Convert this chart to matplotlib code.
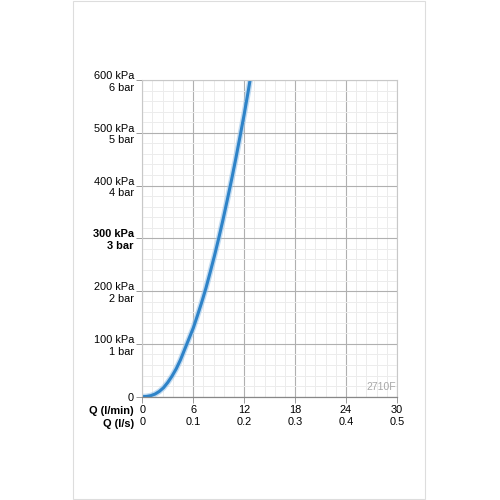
import matplotlib.pyplot as plt
from matplotlib.patches import Rectangle
from matplotlib.ticker import MultipleLocator

plt.rcParams['font.family'] = ['Liberation Sans', 'DejaVu Sans']

# caudal (l/min) y presión (kPa)
q_lmin = [0, 0.5, 1, 1.5, 2, 2.5, 3, 3.5, 4, 4.5, 5, 5.5, 6, 6.5, 7, 7.5, 8,
          8.5, 9, 9.5, 10, 10.5, 11, 11.5, 12, 12.5, 12.9]
p_kpa = [0, 0.5, 2, 5, 10, 17, 27, 39, 53, 70, 90, 110, 130, 154, 179, 206, 236,
         267, 300, 335, 372, 410, 450, 492, 535, 581, 620]

y_ticks = [0, 100, 200, 300, 400, 500, 600]
y_labels = ['0', '100 kPa\n1 bar', '200 kPa\n2 bar', '300 kPa\n3 bar',
            '400 kPa\n4 bar', '500 kPa\n5 bar', '600 kPa\n6 bar']
x_ticks = [0, 6, 12, 18, 24, 30]
x_labels = ['0\n0', '6\n0.1', '12\n0.2', '18\n0.3', '24\n0.4', '30\n0.5']

fig = plt.figure(figsize=(5, 5), dpi=100)
fig.patches.append(Rectangle((0.146, 0.002), 0.704, 0.996, transform=fig.transFigure,
                             fill=False, edgecolor='#dddddd', linewidth=0.8))

ax = fig.add_axes([0.2846, 0.2066, 0.5094, 0.6334])
ax.set_xlim(0, 30)
ax.set_ylim(0, 600)

ax.xaxis.set_minor_locator(MultipleLocator(1.2))
ax.yaxis.set_minor_locator(MultipleLocator(20))
ax.grid(which='minor', color='#ececec', linewidth=0.7)
ax.grid(which='major', color='#b0b0b0', linewidth=0.8)
ax.set_axisbelow(True)

for s in ['top', 'right', 'left']:
    ax.spines[s].set_color('#c8c8c8')
    ax.spines[s].set_linewidth(0.8)
ax.spines['bottom'].set_color('#888888')
ax.spines['bottom'].set_linewidth(0.9)

ax.set_yticks(y_ticks)
ax.set_yticklabels(y_labels, fontsize=7.9, linespacing=1.2)
for lbl in ax.get_yticklabels():
    if lbl.get_text().startswith('300'):
        lbl.set_fontweight('bold')
ax.set_xticks(x_ticks)
ax.set_xticklabels(x_labels, fontsize=7.9, linespacing=1.3)
ax.tick_params(axis='both', which='major', length=4, width=0.7, color='#999999', pad=2)
ax.tick_params(axis='both', which='minor', length=0)

ax.plot(q_lmin, p_kpa, color='#9cc6ea', linewidth=4.2, alpha=0.6, solid_capstyle='round')
ax.plot(q_lmin, p_kpa, color='#2e83c8', linewidth=2.2, solid_capstyle='round')

ax.text(29.9, 8, '2710F', fontsize=7.5, color='#a8a8a8', ha='right', va='bottom')

fig.text(0.268, 0.165, 'Q (l/min)\nQ (l/s)', fontsize=7.9, fontweight='bold',
         ha='right', va='center', linespacing=1.3)

fig.savefig('out.png', dpi=100, facecolor='white')
